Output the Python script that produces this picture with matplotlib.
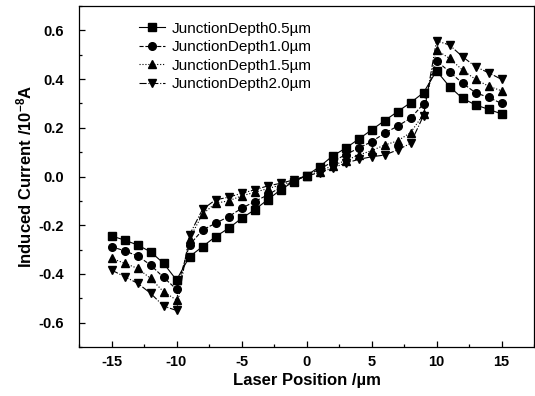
import matplotlib
matplotlib.use('Agg')
import matplotlib.pyplot as plt
from matplotlib.ticker import MultipleLocator

plt.rcParams['font.family'] = ['Liberation Sans', 'DejaVu Sans']
plt.rcParams['mathtext.fontset'] = 'custom'
plt.rcParams['mathtext.rm'] = 'Liberation Sans:bold'
plt.rcParams['mathtext.default'] = 'rm'
plt.rcParams['axes.unicode_minus'] = False

# laser position (um)
pos = list(range(-15, 16))

# induced current, 1e-8 A
depth05 = [-0.244, -0.261, -0.281, -0.309, -0.356, -0.425, -0.329, -0.288, -0.247, -0.213,
           -0.172, -0.137, -0.096, -0.055, -0.021, 0.004, 0.040, 0.084, 0.116, 0.153,
           0.191, 0.229, 0.266, 0.303, 0.344, 0.434, 0.369, 0.321, 0.294, 0.276, 0.257]
depth10 = [-0.288, -0.305, -0.326, -0.363, -0.414, -0.463, -0.281, -0.220, -0.192, -0.165,
           -0.131, -0.103, -0.076, -0.045, -0.021, 0.004, 0.030, 0.060, 0.090, 0.116,
           0.143, 0.177, 0.207, 0.239, 0.298, 0.475, 0.430, 0.383, 0.344, 0.325, 0.300]
depth15 = [-0.336, -0.356, -0.377, -0.418, -0.473, -0.507, -0.255, -0.155, -0.110, -0.100,
           -0.080, -0.065, -0.050, -0.035, -0.018, 0.003, 0.020, 0.045, 0.065, 0.088,
           0.106, 0.129, 0.146, 0.180, 0.255, 0.519, 0.485, 0.437, 0.399, 0.371, 0.352]
depth20 = [-0.384, -0.411, -0.438, -0.479, -0.532, -0.550, -0.240, -0.135, -0.096, -0.085,
           -0.069, -0.055, -0.039, -0.028, -0.014, 0.003, 0.015, 0.035, 0.055, 0.070,
           0.081, 0.088, 0.109, 0.136, 0.250, 0.557, 0.540, 0.492, 0.451, 0.426, 0.399]

labels = ['JunctionDepth0.5µm', 'JunctionDepth1.0µm', 'JunctionDepth1.5µm', 'JunctionDepth2.0µm']
series = [depth05, depth10, depth15, depth20]
markers = ['s', 'o', '^', 'v']
styles = ['-', '--', ':', '-.']

fig = plt.figure(figsize=(5.35, 3.96), dpi=100)
ax = fig.add_axes([79/535, 1-347/396, 455/535, 341/396])

for vals, lab, m, ls in zip(series, labels, markers, styles):
    ax.plot(pos, vals, color='black', linestyle=ls, linewidth=0.8,
            marker=m, markersize=5.5, markerfacecolor='black', markeredgecolor='black',
            label=lab)

ax.set_xlim(-17.5, 17.5)
ax.set_ylim(-0.7, 0.7)
ax.xaxis.set_major_locator(MultipleLocator(5))
ax.xaxis.set_minor_locator(MultipleLocator(2.5))
ax.yaxis.set_minor_locator(MultipleLocator(0.1))
ax.set_yticks([-0.6, -0.4, -0.2, 0.0, 0.2, 0.4, 0.6])
ax.set_yticklabels(['-0.6', '-0.4', '-0.2', '0.0', '0.2', '0.4', '0.6'])
ax.tick_params(which='both', direction='in', top=False, right=False, width=0.9)
ax.tick_params(which='major', length=4, labelsize=10.5)
ax.tick_params(which='minor', length=2.2)
ax.tick_params(axis='y', which='major', pad=11)
ax.tick_params(axis='x', which='major', pad=6)
for lab in ax.get_xticklabels() + ax.get_yticklabels():
    lab.set_fontweight('bold')
for sp in ax.spines.values():
    sp.set_linewidth(0.9)

ax.set_xlabel('Laser Position /µm', fontsize=12, fontweight='bold', labelpad=3)
ax.set_ylabel(r'Induced Current /10$^{-8}$A', fontsize=12, fontweight='bold', labelpad=3)

ax.legend(loc='upper left', bbox_to_anchor=(0.105, 0.99), frameon=False, fontsize=11,
          handlelength=1.7, handletextpad=0.45, labelspacing=0.3, borderpad=0.3)

fig.savefig('out.png', dpi=100)
